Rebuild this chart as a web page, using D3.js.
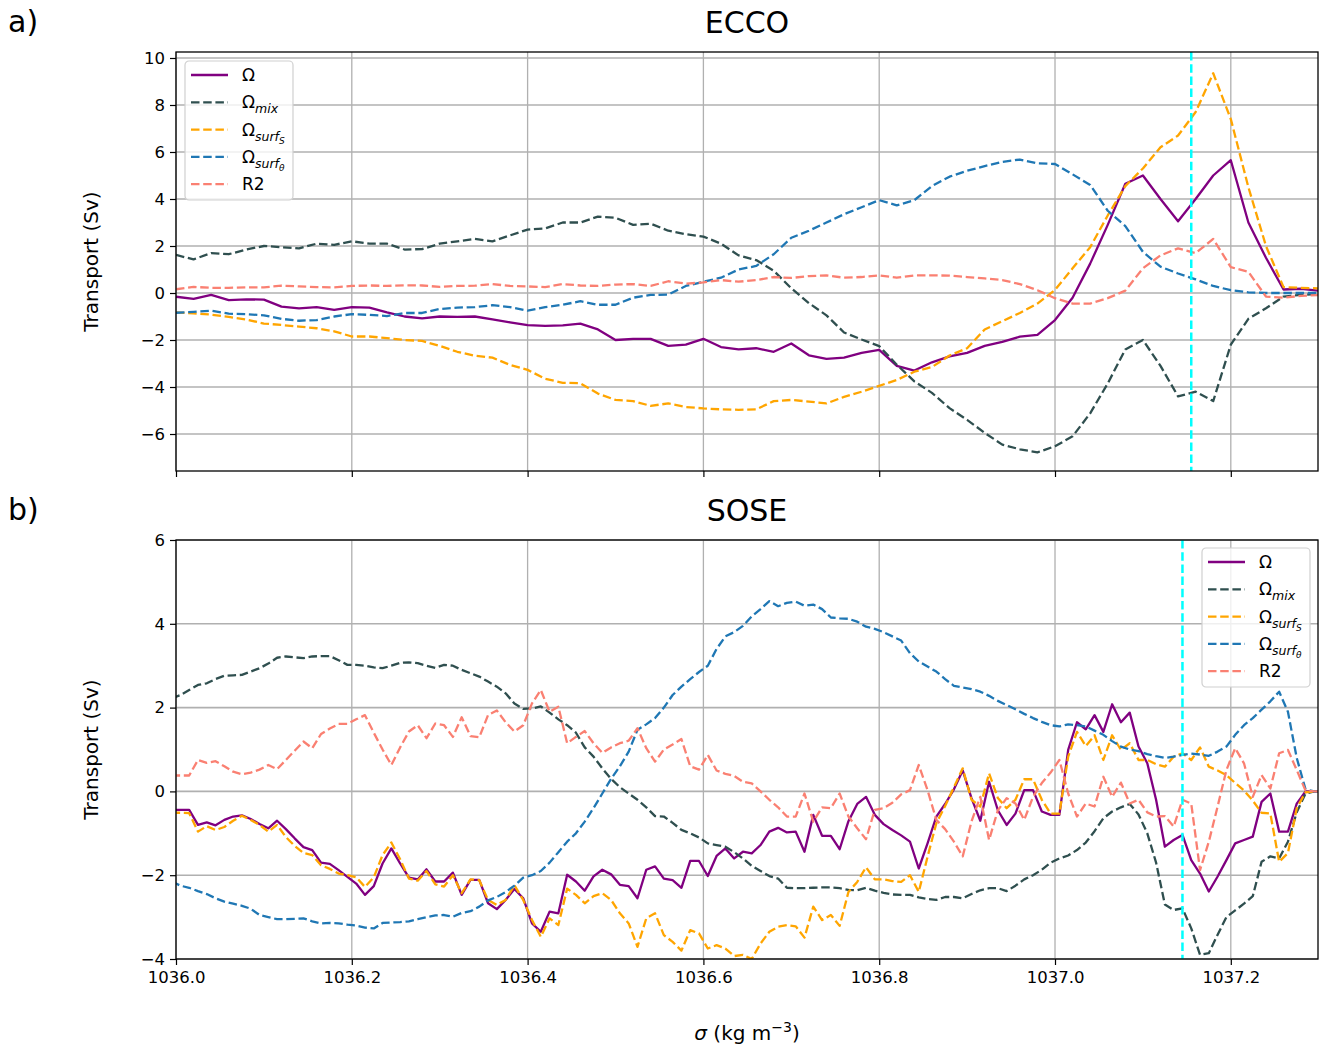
<!DOCTYPE html>
<html>
<head>
<meta charset="utf-8">
<script src="https://cdn.jsdelivr.net/npm/d3@7/dist/d3.min.js"></script>
<style>
  body { margin: 0; background: #fff; }
  svg { font-family: "DejaVu Sans", sans-serif; }
</style>
</head>
<body>
<div id="chart"></div>
<script>
// density grids (x values) for the two panels
const sigmaTop = d3.range(66).map(i => +(1036 + i * 0.02).toFixed(2));
const sigmaBot = d3.range(132).map(i => +(1035.995 + i * 0.01).toFixed(3));

// ECCO (panel a), one value per sigmaTop entry
const eccoOmega = [-0.16,-0.25,-0.08,-0.3,-0.27,-0.28,-0.58,-0.65,-0.6,-0.72,-0.6,-0.62,-0.82,-1.0,-1.08,-1.0,-1.02,-1.0,-1.12,-1.25,-1.37,-1.4,-1.38,-1.3,-1.55,-2.0,-1.95,-1.95,-2.25,-2.2,-1.95,-2.3,-2.4,-2.35,-2.5,-2.15,-2.65,-2.8,-2.75,-2.55,-2.42,-3.1,-3.3,-2.95,-2.7,-2.55,-2.25,-2.08,-1.86,-1.78,-1.15,-0.2,1.25,2.9,4.65,5.0,4.0,3.05,4.0,5.0,5.65,3.0,1.5,0.15,0.18,0.1];
const eccoMix = [1.62,1.43,1.7,1.65,1.85,2.0,1.95,1.9,2.1,2.05,2.2,2.1,2.1,1.85,1.87,2.1,2.2,2.3,2.2,2.45,2.7,2.75,3.0,3.0,3.25,3.2,2.9,2.95,2.65,2.5,2.4,2.1,1.6,1.4,0.95,0.2,-0.43,-0.95,-1.68,-1.98,-2.26,-3.05,-3.76,-4.25,-4.9,-5.4,-5.95,-6.45,-6.65,-6.78,-6.52,-6.1,-5.12,-3.85,-2.4,-2.0,-3.1,-4.4,-4.2,-4.6,-2.2,-1.1,-0.65,-0.15,-0.08,-0.04];
const eccoSurfS = [-0.82,-0.87,-0.92,-1.02,-1.13,-1.3,-1.36,-1.43,-1.5,-1.63,-1.85,-1.85,-1.92,-2.0,-2.04,-2.25,-2.5,-2.67,-2.75,-3.06,-3.27,-3.65,-3.82,-3.84,-4.28,-4.55,-4.6,-4.8,-4.7,-4.85,-4.91,-4.95,-4.97,-4.95,-4.6,-4.55,-4.62,-4.7,-4.42,-4.2,-3.95,-3.7,-3.35,-3.15,-2.66,-2.35,-1.55,-1.2,-0.85,-0.45,0.13,1.05,1.95,3.3,4.55,5.3,6.2,6.7,7.7,9.35,7.4,4.5,2.0,0.25,0.22,0.2];
const eccoSurfT = [-0.84,-0.8,-0.75,-0.88,-0.9,-0.95,-1.1,-1.18,-1.15,-1.0,-0.9,-0.93,-0.98,-0.85,-0.85,-0.68,-0.62,-0.6,-0.52,-0.6,-0.75,-0.6,-0.5,-0.35,-0.5,-0.5,-0.2,-0.08,-0.07,0.3,0.48,0.65,1.0,1.15,1.65,2.35,2.65,3.0,3.35,3.65,3.95,3.73,3.95,4.55,4.95,5.2,5.4,5.58,5.68,5.52,5.49,5.05,4.6,3.5,2.85,1.75,1.12,0.83,0.58,0.3,0.12,0.03,0.0,0.0,0.0,0.0];
const eccoR2 = [0.16,0.26,0.22,0.22,0.24,0.24,0.31,0.28,0.25,0.24,0.3,0.32,0.3,0.33,0.32,0.26,0.3,0.31,0.38,0.3,0.28,0.25,0.38,0.32,0.3,0.36,0.38,0.3,0.5,0.4,0.45,0.55,0.48,0.55,0.68,0.64,0.72,0.75,0.65,0.68,0.75,0.65,0.75,0.75,0.74,0.68,0.62,0.55,0.38,0.12,-0.22,-0.45,-0.45,-0.22,0.1,1.05,1.6,1.9,1.7,2.3,1.1,0.9,-0.15,-0.2,-0.12,-0.09];

// SOSE (panel b), one value per sigmaBot entry
const soseOmega = [-0.44,-0.44,-0.44,-0.8,-0.74,-0.81,-0.68,-0.6,-0.57,-0.66,-0.78,-0.88,-0.7,-0.9,-1.12,-1.33,-1.4,-1.7,-1.73,-1.88,-2.04,-2.2,-2.47,-2.26,-1.72,-1.36,-1.72,-2.06,-2.1,-1.86,-2.15,-2.15,-1.94,-2.47,-2.11,-2.11,-2.67,-2.81,-2.59,-2.33,-2.55,-3.15,-3.35,-2.87,-2.91,-1.99,-2.15,-2.37,-2.03,-1.87,-1.98,-2.23,-2.26,-2.55,-1.87,-1.79,-2.08,-2.12,-2.3,-1.66,-1.66,-2.02,-1.54,-1.36,-1.6,-1.44,-1.48,-1.28,-0.96,-0.87,-0.98,-0.96,-1.44,-0.56,-1.06,-1.06,-1.38,-0.71,-0.3,-0.13,-0.56,-0.78,-0.92,-1.05,-1.2,-1.84,-1.24,-0.6,-0.3,0.05,0.5,-0.16,-0.7,0.23,-0.45,-0.8,-0.53,0.03,0.03,-0.48,-0.56,-0.56,0.99,1.65,1.48,1.82,1.42,2.08,1.65,1.88,1.07,0.67,-0.2,-1.32,-1.16,-1.04,-1.64,-1.96,-2.39,-2.03,-1.64,-1.24,-1.16,-1.08,-0.25,-0.05,-0.96,-0.96,-0.29,0.0,0.0,0.0];
const soseMix = [2.22,2.3,2.42,2.54,2.58,2.68,2.76,2.77,2.78,2.86,2.94,3.05,3.19,3.22,3.2,3.18,3.22,3.23,3.23,3.13,3.02,3.02,3.0,2.96,2.94,3.0,3.07,3.08,3.06,3.0,2.95,3.02,3.0,2.9,2.82,2.74,2.62,2.5,2.34,2.1,1.97,1.98,2.03,1.88,1.72,1.58,1.4,1.05,0.83,0.55,0.3,0.1,-0.05,-0.2,-0.38,-0.59,-0.6,-0.75,-0.92,-1.0,-1.1,-1.24,-1.28,-1.32,-1.45,-1.6,-1.78,-1.9,-2.02,-2.08,-2.3,-2.31,-2.31,-2.3,-2.29,-2.29,-2.31,-2.35,-2.36,-2.3,-2.37,-2.42,-2.46,-2.47,-2.47,-2.53,-2.57,-2.59,-2.52,-2.52,-2.55,-2.45,-2.36,-2.31,-2.31,-2.38,-2.25,-2.1,-2.0,-1.87,-1.7,-1.6,-1.53,-1.4,-1.22,-0.95,-0.64,-0.48,-0.38,-0.3,-0.55,-1.0,-1.7,-2.7,-2.83,-2.79,-3.27,-3.9,-3.86,-3.42,-3.0,-2.84,-2.68,-2.5,-1.68,-1.55,-1.6,-1.2,-0.5,-0.05,0.0,0.0];
const soseSurfS = [-0.51,-0.51,-0.52,-0.96,-0.83,-0.92,-0.85,-0.7,-0.58,-0.68,-0.8,-0.96,-0.8,-1.09,-1.3,-1.47,-1.52,-1.76,-1.85,-1.96,-2.0,-2.05,-2.28,-2.05,-1.52,-1.22,-1.62,-2.08,-2.13,-1.9,-2.22,-2.27,-2.0,-2.43,-2.1,-2.12,-2.59,-2.71,-2.59,-2.24,-2.59,-3.07,-3.47,-3.03,-3.19,-2.32,-2.47,-2.67,-2.5,-2.43,-2.59,-2.91,-3.15,-3.71,-3.03,-2.91,-3.43,-3.59,-3.8,-3.31,-3.39,-3.75,-3.67,-3.75,-3.93,-3.9,-4.0,-3.63,-3.35,-3.23,-3.19,-3.22,-3.49,-2.75,-3.07,-2.95,-3.21,-2.4,-2.16,-1.81,-2.1,-2.1,-2.14,-2.16,-2.0,-2.4,-1.56,-0.76,-0.35,0.1,0.55,-0.2,-0.36,0.43,-0.16,-0.4,-0.2,0.29,0.29,-0.2,-0.53,-0.53,0.83,1.42,1.08,1.34,0.75,1.34,0.99,1.15,0.75,0.75,0.65,0.59,0.83,0.91,0.75,1.05,0.59,0.5,0.39,0.2,0.02,-0.22,-0.51,-0.53,-1.68,-1.47,-0.4,-0.02,0.0,0.0];
const soseSurfT = [-2.15,-2.25,-2.3,-2.38,-2.45,-2.55,-2.63,-2.68,-2.73,-2.8,-2.95,-3.0,-3.05,-3.05,-3.04,-3.03,-3.1,-3.15,-3.14,-3.15,-3.18,-3.2,-3.25,-3.27,-3.14,-3.13,-3.12,-3.1,-3.05,-3.0,-2.96,-2.95,-2.99,-2.9,-2.86,-2.75,-2.6,-2.52,-2.4,-2.25,-2.06,-2.0,-1.9,-1.7,-1.45,-1.2,-1.0,-0.72,-0.4,-0.05,0.3,0.6,0.95,1.47,1.6,1.75,2.0,2.3,2.5,2.68,2.85,3.0,3.4,3.7,3.8,3.95,4.18,4.35,4.54,4.42,4.5,4.53,4.43,4.46,4.35,4.15,4.13,4.12,4.05,3.93,3.88,3.8,3.7,3.6,3.3,3.1,2.98,2.86,2.68,2.52,2.48,2.44,2.38,2.28,2.16,2.06,1.96,1.85,1.75,1.66,1.58,1.55,1.6,1.58,1.55,1.45,1.35,1.2,1.07,1.0,0.96,0.89,0.84,0.8,0.83,0.87,0.9,0.88,0.85,0.95,1.07,1.35,1.58,1.75,1.95,2.15,2.38,1.9,0.8,0.05,0.0,0.0];
const soseR2 = [0.38,0.38,0.38,0.75,0.68,0.72,0.6,0.47,0.41,0.45,0.52,0.63,0.53,0.75,0.97,1.19,1.03,1.37,1.5,1.61,1.61,1.72,1.82,1.4,1.0,0.63,1.05,1.43,1.58,1.27,1.62,1.58,1.3,1.77,1.32,1.29,1.82,1.93,1.65,1.43,1.58,2.1,2.42,1.9,2.02,1.15,1.3,1.44,1.15,0.92,1.05,1.15,1.21,1.51,1.03,0.71,1.0,1.12,1.25,0.6,0.52,0.87,0.5,0.42,0.37,0.23,0.19,0.0,-0.2,-0.38,-0.6,-0.6,-0.05,-0.72,-0.38,-0.4,-0.05,-0.6,-0.88,-1.14,-0.44,-0.4,-0.27,-0.07,0.03,0.63,0.03,-0.68,-0.9,-1.2,-1.55,-0.72,-0.13,-1.16,-0.45,-0.16,-0.29,-0.68,-0.13,0.2,0.45,0.75,-0.05,-0.6,-0.29,-0.36,0.35,-0.13,0.21,-0.29,-0.2,-0.5,-0.6,-0.59,-0.84,-0.2,-0.29,-1.88,-1.2,-0.36,0.51,1.03,0.67,-0.13,0.39,0.07,0.91,0.99,0.51,0.02,0.0,0.0];

// ticks and markers
const xTicks = [1036.0, 1036.2, 1036.4, 1036.6, 1036.8, 1037.0, 1037.2];
const eccoYTicks = [-6, -4, -2, 0, 2, 4, 6, 8, 10];
const soseYTicks = [-4, -2, 0, 2, 4, 6];
const eccoCut = 1037.155;
const soseCut = 1037.145;

// legend labels: [text, subscript level]
const seriesStyle = [
  { name: 'omega', color: 'purple',  dash: null,      label: [['Ω', 0]] },
  { name: 'mix',   color: '#2f4f4f', dash: '8.5,3.7', label: [['Ω', 0], ['mix', 1]] },
  { name: 'surfS', color: 'orange',  dash: '8.5,3.7', label: [['Ω', 0], ['surf', 1], ['S', 2]] },
  { name: 'surfT', color: '#1f77b4', dash: '8.5,3.7', label: [['Ω', 0], ['surf', 1], ['θ', 2]] },
  { name: 'r2',    color: 'salmon',  dash: '8.5,3.7', label: [['R2', 0]] }
];

const W = 1323, H = 1050;
const left = 176, right = 1318;

const svg = d3.select('#chart').append('svg')
  .attr('width', W).attr('height', H);

const x = d3.scaleLinear().domain([1036, 1037.2992]).range([left, right]);

function panel(opts) {
  const y = d3.scaleLinear().domain(opts.yDomain).range([opts.bottom, opts.top]);
  const g = svg.append('g');
  const clipId = 'clip-' + opts.id;

  svg.append('clipPath').attr('id', clipId)
    .append('rect')
    .attr('x', left).attr('y', opts.top)
    .attr('width', right - left).attr('height', opts.bottom - opts.top);

  // grid
  g.append('g').selectAll('line').data(xTicks).join('line')
    .attr('x1', d => x(d)).attr('x2', d => x(d))
    .attr('y1', opts.top).attr('y2', opts.bottom)
    .attr('stroke', '#b0b0b0').attr('stroke-width', 1.3);
  g.append('g').selectAll('line').data(opts.yTicks).join('line')
    .attr('x1', left).attr('x2', right)
    .attr('y1', d => y(d)).attr('y2', d => y(d))
    .attr('stroke', '#b0b0b0').attr('stroke-width', 1.6);

  // lines
  const lines = g.append('g').attr('clip-path', `url(#${clipId})`);
  seriesStyle.forEach((s, i) => {
    const vals = opts.values[i];
    const line = d3.line()
      .x((d, j) => x(opts.sigma[j]))
      .y(d => y(d));
    lines.append('path')
      .datum(vals)
      .attr('d', line)
      .attr('fill', 'none')
      .attr('stroke', s.color)
      .attr('stroke-width', 2.3)
      .attr('stroke-dasharray', s.dash)
      .attr('stroke-linejoin', 'round');
  });

  // cyan cut
  lines.append('line')
    .attr('x1', x(opts.cut)).attr('x2', x(opts.cut))
    .attr('y1', opts.top).attr('y2', opts.bottom)
    .attr('stroke', 'cyan').attr('stroke-width', 2.5)
    .attr('stroke-dasharray', '8.5,3.7');

  // axes
  const yAxis = d3.axisLeft(y).tickValues(opts.yTicks)
    .tickFormat(d3.format('d')).tickSize(6).tickPadding(5);
  const ya = g.append('g').attr('transform', `translate(${left},0)`).call(yAxis);

  const xAxis = d3.axisBottom(x).tickValues(xTicks)
    .tickFormat(opts.xLabels ? d3.format('.1f') : '').tickSize(6).tickPadding(6);
  const xa = g.append('g').attr('transform', `translate(0,${opts.bottom})`).call(xAxis);

  [ya, xa].forEach(a => {
    a.select('.domain').remove();
    a.selectAll('line').attr('stroke', '#000').attr('stroke-width', 1.2);
    a.selectAll('text').attr('fill', '#000')
      .style('font-size', '16.5px').style('font-family', '"DejaVu Sans", sans-serif');
  });

  // frame
  g.append('rect')
    .attr('x', left).attr('y', opts.top)
    .attr('width', right - left).attr('height', opts.bottom - opts.top)
    .attr('fill', 'none').attr('stroke', '#000').attr('stroke-width', 1.3);

  // titles
  g.append('text').attr('x', (left + right) / 2).attr('y', opts.top - 19)
    .attr('text-anchor', 'middle').style('font-size', '30px').text(opts.title);
  g.append('text').attr('x', 8).attr('y', opts.top - 20)
    .style('font-size', '30px').text(opts.tag);
  g.append('text')
    .attr('transform', `translate(98,${(opts.top + opts.bottom) / 2}) rotate(-90)`)
    .attr('text-anchor', 'middle').style('font-size', '20px').text('Transport (Sv)');

  // legend
  const lg = g.append('g').attr('transform', `translate(${opts.legend[0]},${opts.legend[1]})`);
  lg.append('rect').attr('width', 108).attr('height', 139).attr('rx', 4)
    .attr('fill', 'white').attr('fill-opacity', 0.8)
    .attr('stroke', '#d0d0d0').attr('stroke-width', 1.2);
  seriesStyle.forEach((s, i) => {
    const cy = 14 + i * 27.3;
    lg.append('line').attr('x1', 6).attr('x2', 43).attr('y1', cy).attr('y2', cy)
      .attr('stroke', s.color).attr('stroke-width', 2.3)
      .attr('stroke-dasharray', s.dash);
    const t = lg.append('text').attr('x', 57).attr('y', cy + 6).style('font-size', '17px');
    s.label.forEach(([txt, lvl]) => {
      const ts = t.append('tspan').text(txt);
      if (lvl === 1) ts.attr('dy', 5).style('font-size', '12.5px').style('font-style', 'italic');
      if (lvl === 2) ts.attr('dy', 3).style('font-size', '9px').style('font-style', 'italic');
    });
  });
}

panel({
  id: 'ecco', top: 52, bottom: 471, yDomain: [-7.574, 10.255], yTicks: eccoYTicks,
  sigma: sigmaTop, values: [eccoOmega, eccoMix, eccoSurfS, eccoSurfT, eccoR2],
  cut: eccoCut, title: 'ECCO', tag: 'a)', legend: [185, 61], xLabels: false
});
panel({
  id: 'sose', top: 540, bottom: 959, yDomain: [-4, 6], yTicks: soseYTicks,
  sigma: sigmaBot, values: [soseOmega, soseMix, soseSurfS, soseSurfT, soseR2],
  cut: soseCut, title: 'SOSE', tag: 'b)', legend: [1202, 548], xLabels: true
});

// x label
const xl = svg.append('text').attr('x', (left + right) / 2).attr('y', 1040)
  .attr('text-anchor', 'middle').style('font-size', '20px');
xl.append('tspan').style('font-style', 'italic').text('σ');
xl.append('tspan').text(' (kg m');
xl.append('tspan').attr('dy', -8).style('font-size', '14px').text('−3');
xl.append('tspan').attr('dy', 8).text(')');
</script>
</body>
</html>
